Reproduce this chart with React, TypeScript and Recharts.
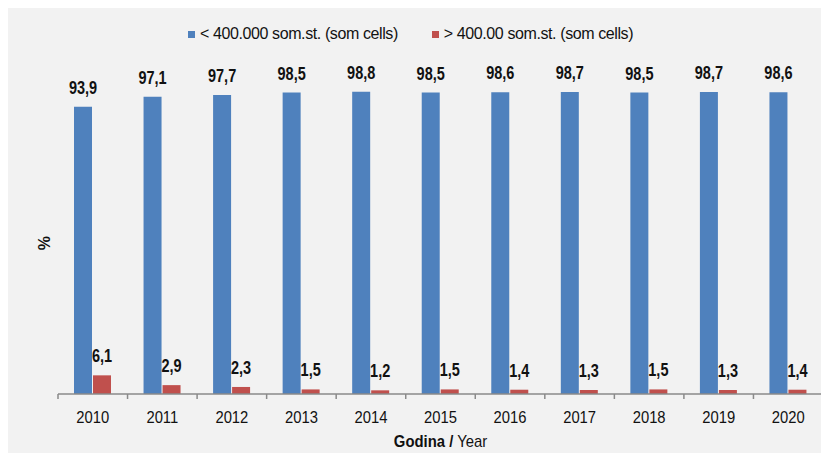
import { Bar, BarChart, LabelList, Legend, XAxis, YAxis } from "recharts";

const years = ["2010", "2011", "2012", "2013", "2014", "2015", "2016", "2017", "2018", "2019", "2020"];
const belowValues = [93.9, 97.1, 97.7, 98.5, 98.8, 98.5, 98.6, 98.7, 98.5, 98.7, 98.6];
const aboveValues = [6.1, 2.9, 2.3, 1.5, 1.2, 1.5, 1.4, 1.3, 1.5, 1.3, 1.4];
const seriesNames = ["< 400.000 som.st. (som cells)", "> 400.00 som.st. (som cells)"];
const seriesColors = ["#4f81bd", "#c0504d"];

const data = years.map((year, i) => ({
  year,
  below: belowValues[i],
  above: aboveValues[i],
}));

// no Arial Narrow here, so squeeze Liberation Sans horizontally
const FONT = "'Liberation Sans', Arial, sans-serif";
const AXIS_COLOR = "#8a8a8a";

const fmt = (v: unknown) => Number(v).toFixed(1).replace(".", ",");

function YearTick(props: any) {
  const { x, y, payload, index, visibleTicksCount, width } = props;
  const band = width / visibleTicksCount;
  const left = x - band / 2;
  return (
    <g>
      <line x1={left} x2={left} y1={y} y2={y + 5} stroke={AXIS_COLOR} strokeWidth={1.5} />
      {index === visibleTicksCount - 1 && (
        <line x1={x + band / 2} x2={x + band / 2} y1={y} y2={y + 5} stroke={AXIS_COLOR} strokeWidth={1.5} />
      )}
      <text
        transform={`translate(${x},${y + 29}) scale(0.87,1)`}
        textAnchor="middle"
        fontSize={17}
        fill="#111"
        fontFamily={FONT}
      >
        {payload.value}
      </text>
    </g>
  );
}

function ValueLabel(props: any) {
  const { x, y, width, value } = props;
  return (
    <text
      transform={`translate(${x + width / 2},${y - 13}) scale(0.82,1)`}
      textAnchor="middle"
      fontSize={17.7}
      fontWeight="bold"
      fill="#111"
      fontFamily={FONT}
    >
      {fmt(value)}
    </text>
  );
}

function LegendContent() {
  return (
    <div
      style={{
        display: "flex",
        gap: 34,
        fontFamily: FONT,
        fontSize: 16,
        letterSpacing: -0.4,
        color: "#111",
        height: 20,
        alignItems: "center",
        whiteSpace: "nowrap",
      }}
    >
      {seriesNames.map((name, i) => (
        <span key={name} style={{ display: "flex", alignItems: "center", gap: 5 }}>
          <span style={{ width: 7, height: 7, background: seriesColors[i], display: "inline-block" }} />
          {name}
        </span>
      ))}
    </div>
  );
}

export default function App() {
  return (
    <div style={{ width: 821, height: 445, background: "#f2f2f2" }}>
      <BarChart
        width={821}
        height={445}
        data={data}
        margin={{ top: 60, right: 6, left: 0, bottom: 0 }}
        barGap={1}
        barSize={18}
      >
        <Legend
          verticalAlign="top"
          content={() => <LegendContent />}
          wrapperStyle={{ top: 16, left: 180, width: "auto", height: 20 }}
        />
        <XAxis
          dataKey="year"
          height={59}
          axisLine={{ stroke: AXIS_COLOR, strokeWidth: 1.5 }}
          tickLine={false}
          tickSize={0}
          tickMargin={0}
          interval={0}
          tick={<YearTick />}
          label={{
            content: (p: any) => {
              const vb = p.viewBox;
              return (
                <text
                  transform={`translate(${vb.x + vb.width / 2},${vb.y + 53}) scale(0.93,1)`}
                  textAnchor="middle"
                  fontSize={16}
                  fill="#111"
                  fontFamily={FONT}
                >
                  <tspan fontWeight="bold">Godina /</tspan>
                  <tspan> Year</tspan>
                </text>
              );
            },
          }}
        />
        <YAxis
          width={50}
          domain={[0, 100]}
          axisLine={false}
          tickLine={false}
          tick={false}
          label={{
            content: (p: any) => {
              const vb = p.viewBox;
              const cx = vb.x + 38;
              const cy = vb.y + vb.height / 2 + 2;
              return (
                <text
                  x={cx}
                  y={cy}
                  textAnchor="middle"
                  dominantBaseline="middle"
                  fontSize={16}
                  fontWeight="bold"
                  fill="#111"
                  fontFamily={FONT}
                  transform={`rotate(-90 ${cx} ${cy})`}
                >
                  %
                </text>
              );
            },
          }}
        />
        <Bar dataKey="below" name={seriesNames[0]} fill={seriesColors[0]} isAnimationActive={false}>
          <LabelList dataKey="below" content={<ValueLabel />} />
        </Bar>
        <Bar dataKey="above" name={seriesNames[1]} fill={seriesColors[1]} isAnimationActive={false}>
          <LabelList dataKey="above" content={<ValueLabel />} />
        </Bar>
      </BarChart>
    </div>
  );
}
